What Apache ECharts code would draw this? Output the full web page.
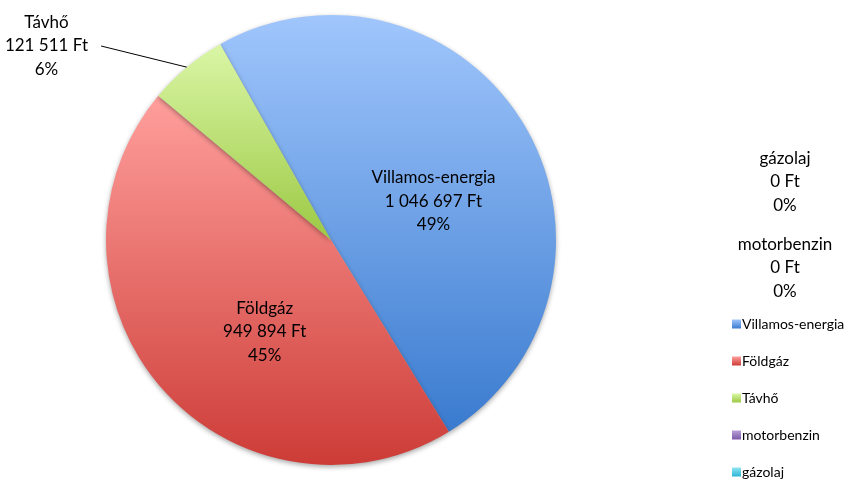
<!DOCTYPE html>
<html>
<head>
<meta charset="utf-8">
<script src="https://cdn.jsdelivr.net/npm/echarts@6/dist/echarts.min.js"></script>
<style>html,body{margin:0;padding:0;background:#fff}#c{width:854px;height:480px}</style>
</head>
<body>
<div id="c"></div>
<script>
var categories = ['Villamos-energia', 'Földgáz', 'Távhő', 'motorbenzin', 'gázolaj'];
var values = [1046697, 949894, 121511, 0, 0];
var currency = 'Ft';

var gradTop = ['#a0c6fc', '#ff9f9c', '#daf6a6', '#b9a0d8', '#8fe4f4'];
var gradBottom = ['#3a7bcf', '#cd3c37', '#9cc944', '#7a5aa8', '#2cb6d4'];

function grad(i) {
  return new echarts.graphic.LinearGradient(0, 0, 0, 1, [
    { offset: 0, color: gradTop[i] },
    { offset: 1, color: gradBottom[i] }
  ]);
}
function fmt(v) {
  return String(v).replace(/\B(?=(\d{3})+(?!\d))/g, ' ') + ' ' + currency;
}

var labelPos = {
  0: { position: 'inside', offset: [3, 20] },
  1: { position: 'inside', offset: [21, 16] },
  2: { position: 'outside', padding: [0, 13, 0, 0] },
  3: { position: 'outside' },
  4: { position: 'outside' }
};

var data = categories.map(function (name, i) {
  return {
    name: name,
    value: values[i],
    itemStyle: { color: grad(i) },
    label: labelPos[i],
    labelLine: { show: i === 2 }
  };
});

var chart = echarts.init(document.getElementById('c'), null, { renderer: 'canvas' });
chart.setOption({
  animation: false,
  backgroundColor: '#ffffff',
  legend: {
    orient: 'vertical',
    left: 732,
    top: 317,
    padding: 0,
    itemWidth: 9,
    itemHeight: 9,
    itemGap: 23,
    icon: 'rect',
    textStyle: { fontFamily: 'Lato', fontSize: 14, lineHeight: 14, color: '#000', padding: [0, 0, 0, -4] },
    data: categories
  },
  series: [{
    type: 'pie',
    center: [331, 240],
    radius: 225,
    startAngle: 119.5,
    clockwise: true,
    percentPrecision: 0,
    avoidLabelOverlap: false,
    itemStyle: {
      shadowBlur: 5,
      shadowOffsetY: 2,
      shadowColor: 'rgba(0,0,0,0.35)'
    },
    label: {
      show: true,
      fontFamily: 'Lato',
      fontSize: 17,
      lineHeight: 23.5,
      color: '#000',
      align: 'center',
      formatter: function (p) {
        return p.name + '\n' + fmt(p.value) + '\n' + p.percent + '%';
      }
    },
    labelLine: {
      show: true,
      length: 10,
      length2: 0,
      lineStyle: { color: '#000', width: 1 }
    },
    labelLayout: function (p) {
      if (p.dataIndex === 2) return { x: 53, y: 46, align: 'center', verticalAlign: 'middle' };
      if (p.dataIndex === 3) return { x: 785, y: 268, align: 'center', verticalAlign: 'middle' };
      if (p.dataIndex === 4) return { x: 785, y: 182, align: 'center', verticalAlign: 'middle' };
    },
    emphasis: { disabled: true },
    data: data
  }]
});
</script>
</body>
</html>
